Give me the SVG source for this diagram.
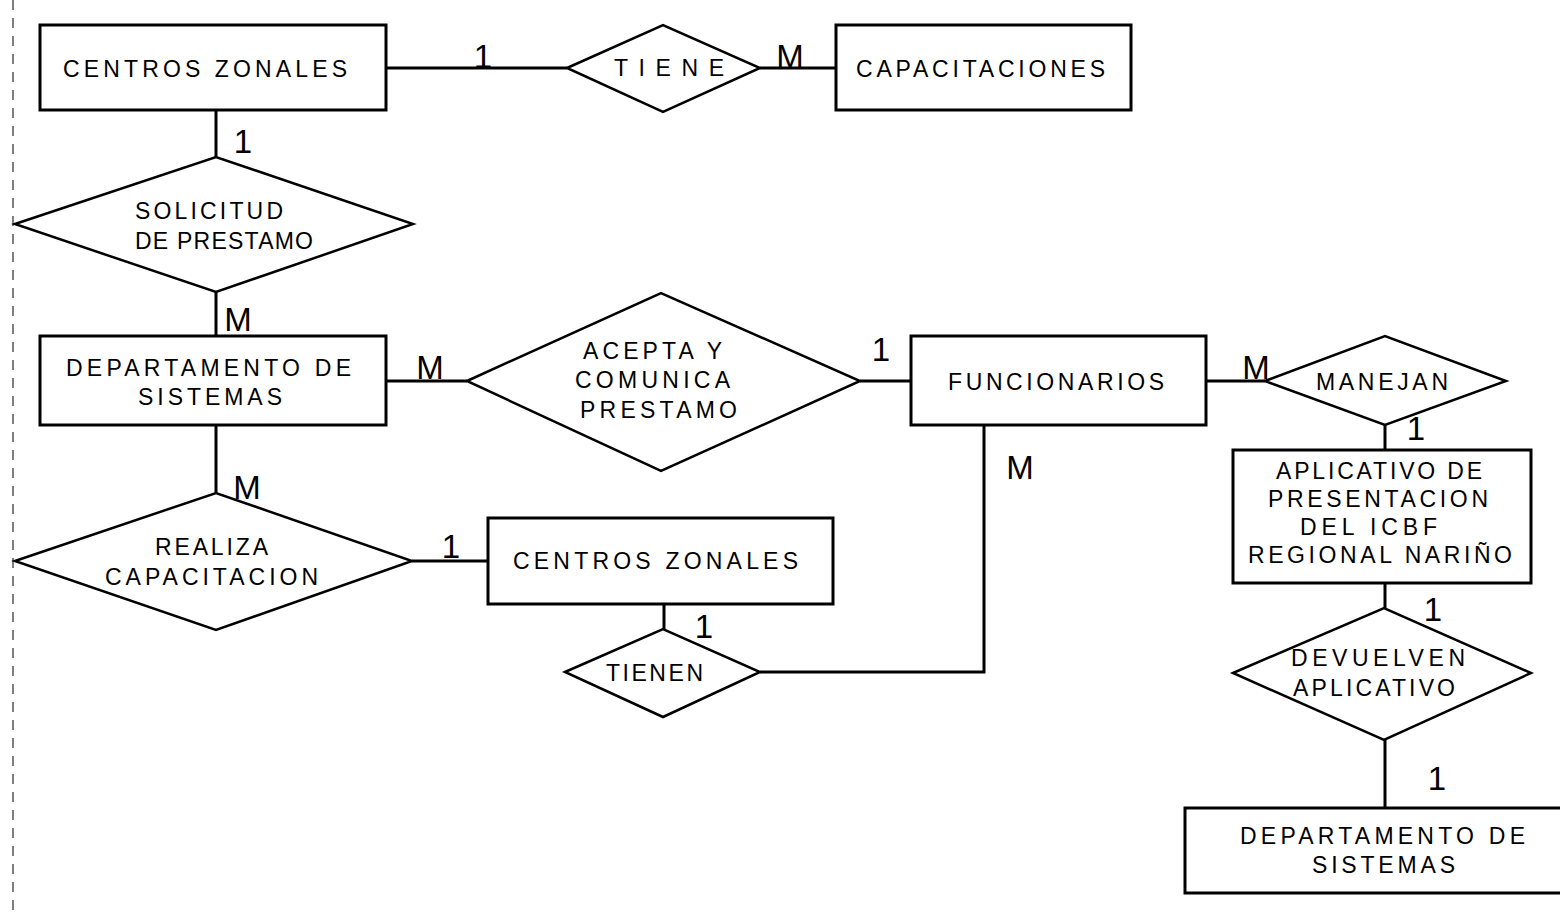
<svg xmlns="http://www.w3.org/2000/svg" width="1560" height="918" viewBox="0 0 1560 918">
<style>
.shape{fill:#fff;stroke:#000;stroke-width:3}
.dia{fill:#fff;stroke:#000;stroke-width:2.5}
.ln{fill:none;stroke:#000;stroke-width:3}
.t{font-family:"Liberation Sans",Arial,sans-serif;font-size:23px;fill:#000;text-anchor:start}
.c{font-family:"Liberation Sans",Arial,sans-serif;font-size:33px;fill:#000;text-anchor:middle}
</style>
<rect width="1560" height="918" fill="#fff"/>
<line x1="13" y1="0" x2="13" y2="918" stroke="#555" stroke-width="1.5" stroke-dasharray="10,8"/>
<g id="connectors">
<line class="ln" x1="386" y1="68" x2="567" y2="68"/>
<line class="ln" x1="760" y1="68" x2="836" y2="68"/>
<line class="ln" x1="216" y1="110" x2="216" y2="157"/>
<line class="ln" x1="216" y1="292" x2="216" y2="336"/>
<line class="ln" x1="386" y1="381" x2="467" y2="381"/>
<line class="ln" x1="860" y1="381" x2="911" y2="381"/>
<line class="ln" x1="1206" y1="381" x2="1265" y2="381"/>
<line class="ln" x1="1385" y1="425" x2="1385" y2="450"/>
<line class="ln" x1="1385" y1="583" x2="1385" y2="608"/>
<line class="ln" x1="1385" y1="740" x2="1385" y2="808"/>
<line class="ln" x1="216" y1="425" x2="216" y2="493"/>
<line class="ln" x1="412" y1="561" x2="488" y2="561"/>
<line class="ln" x1="664" y1="604" x2="664" y2="629"/>
<polyline class="ln" points="760,672 984,672 984,425"/>
<g id="cardinalities">
<text class="c" x="483" y="68" textLength="16">1</text>
<text class="c" x="790" y="68" textLength="24">M</text>
<text class="c" x="243" y="153" textLength="16">1</text>
<text class="c" x="238" y="331" textLength="24">M</text>
<text class="c" x="430" y="379" textLength="24">M</text>
<text class="c" x="881" y="361" textLength="16">1</text>
<text class="c" x="1256" y="379" textLength="24">M</text>
<text class="c" x="1416" y="440" textLength="16">1</text>
<text class="c" x="1433" y="621" textLength="16">1</text>
<text class="c" x="1437" y="790" textLength="16">1</text>
<text class="c" x="247" y="499" textLength="24">M</text>
<text class="c" x="451" y="558" textLength="16">1</text>
<text class="c" x="704" y="638" textLength="16">1</text>
<text class="c" x="1020" y="479" textLength="24">M</text>
</g>
</g>
<g id="centros1">
<rect class="shape" x="40" y="25" width="346" height="85"/>
<text class="t" x="63" y="77" textLength="284" lengthAdjust="spacing">CENTROS ZONALES</text>
</g>
<g id="tiene">
<polygon class="dia" points="567,68 663,25 760,68 663,112"/>
<text class="t" x="614" y="76" textLength="110" lengthAdjust="spacing">TIENE</text>
</g>
<g id="capacitaciones">
<rect class="shape" x="836" y="25" width="295" height="85"/>
<text class="t" x="856" y="77" textLength="249" lengthAdjust="spacing">CAPACITACIONES</text>
</g>
<g id="solicitud">
<polygon class="dia" points="15,224 216,157 413,224 216,292"/>
<text class="t" x="135" y="219" textLength="148" lengthAdjust="spacing">SOLICITUD</text>
<text class="t" x="135" y="249" textLength="178" lengthAdjust="spacing">DE PRESTAMO</text>
</g>
<g id="departamento1">
<rect class="shape" x="40" y="336" width="346" height="89"/>
<text class="t" x="66" y="376" textLength="285" lengthAdjust="spacing">DEPARTAMENTO DE</text>
<text class="t" x="138" y="405" textLength="144" lengthAdjust="spacing">SISTEMAS</text>
</g>
<g id="acepta">
<polygon class="dia" points="467,381 661,293 860,381 661,471"/>
<text class="t" x="583" y="359" textLength="139" lengthAdjust="spacing">ACEPTA Y</text>
<text class="t" x="575" y="388" textLength="155" lengthAdjust="spacing">COMUNICA</text>
<text class="t" x="580" y="418" textLength="157" lengthAdjust="spacing">PRESTAMO</text>
</g>
<g id="funcionarios">
<rect class="shape" x="911" y="336" width="295" height="89"/>
<text class="t" x="948" y="390" textLength="216" lengthAdjust="spacing">FUNCIONARIOS</text>
</g>
<g id="manejan">
<polygon class="dia" points="1265,381 1385,336 1506,381 1385,425"/>
<text class="t" x="1316" y="390" textLength="132" lengthAdjust="spacing">MANEJAN</text>
</g>
<g id="aplicativo">
<rect class="shape" x="1233" y="450" width="298" height="133"/>
<text class="t" x="1276" y="479" textLength="206" lengthAdjust="spacing">APLICATIVO DE</text>
<text class="t" x="1268" y="507" textLength="220" lengthAdjust="spacing">PRESENTACION</text>
<text class="t" x="1300" y="535" textLength="137" lengthAdjust="spacing">DEL ICBF</text>
<text class="t" x="1248" y="563" textLength="264" lengthAdjust="spacing">REGIONAL NARIÑO</text>
</g>
<g id="devuelven">
<polygon class="dia" points="1233,673 1384,608 1531,673 1384,740"/>
<text class="t" x="1291" y="666" textLength="174" lengthAdjust="spacing">DEVUELVEN</text>
<text class="t" x="1293" y="696" textLength="162" lengthAdjust="spacing">APLICATIVO</text>
</g>
<g id="departamento2">
<rect class="shape" x="1185" y="808" width="380" height="85"/>
<text class="t" x="1240" y="844" textLength="285" lengthAdjust="spacing">DEPARTAMENTO DE</text>
<text class="t" x="1312" y="873" textLength="143" lengthAdjust="spacing">SISTEMAS</text>
</g>
<g id="realiza">
<polygon class="dia" points="15,561 216,493 412,561 216,630"/>
<text class="t" x="155" y="555" textLength="113" lengthAdjust="spacing">REALIZA</text>
<text class="t" x="105" y="585" textLength="213" lengthAdjust="spacing">CAPACITACION</text>
</g>
<g id="centros2">
<rect class="shape" x="488" y="518" width="345" height="86"/>
<text class="t" x="513" y="569" textLength="285" lengthAdjust="spacing">CENTROS ZONALES</text>
</g>
<g id="tienen">
<polygon class="dia" points="565,672 663,629 760,672 663,717"/>
<text class="t" x="606" y="681" textLength="97" lengthAdjust="spacing">TIENEN</text>
</g>
</svg>
